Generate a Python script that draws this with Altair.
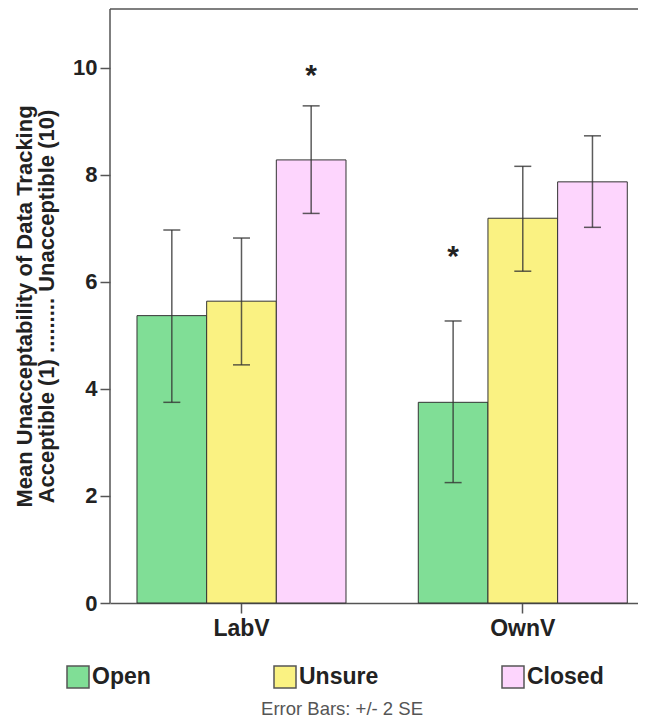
import altair as alt
import pandas as pd

# ---- data ----
groups = ["LabV", "LabV", "LabV", "OwnV", "OwnV", "OwnV"]
status = ["Open", "Unsure", "Closed", "Open", "Unsure", "Closed"]
means = [5.37, 5.64, 8.28, 3.75, 7.19, 7.87]
lower = [3.75, 4.45, 7.28, 2.25, 6.20, 7.02]
upper = [6.97, 6.82, 9.29, 5.27, 8.16, 8.73]
star_group = ["LabV", "OwnV"]
star_status = ["Closed", "Open"]
star_y = [9.95, 6.56]

order = ["Open", "Unsure", "Closed"]
colors = ["#80DE96", "#FAF282", "#FDD5FD"]
y_ticks = [0, 2, 4, 6, 8, 10]
y_title = ["Mean Unacceptability of Data Tracking",
           "Acceptible (1) ......... Unacceptible (10)"]
footnote = "Error Bars: +/- 2 SE"

W, H = 528, 594
FONT = "Liberation Sans"

df = pd.DataFrame({"group": groups, "status": status, "mean": means,
                   "lower": lower, "upper": upper})
stars = pd.DataFrame({"group": star_group, "status": star_status, "y": star_y,
                      "t": ["*", "*"]})

xenc = alt.X("group:N", title=None,
             scale=alt.Scale(paddingInner=0.257, paddingOuter=0.067, align=0.716),
             axis=alt.Axis(labelAngle=0, labelFont=FONT, labelFontSize=23,
                           labelFontWeight="bold", labelColor="#222",
                           labelPadding=4, tickSize=10,
                           tickWidth=1.5, tickColor="#555", domainColor="#555",
                           domainWidth=1.5))
xoff = alt.XOffset("status:N", sort=order,
                   scale=alt.Scale(domain=order, paddingInner=0, paddingOuter=0))
yscale = alt.Scale(domain=[0, 11.1], nice=False)
yaxis = alt.Axis(values=y_ticks, grid=False, title=y_title, orient="left",
                 domain=False,
                 titleFont=FONT, titleFontSize=22, titleFontWeight="bold",
                 titleColor="#222", titleAngle=-90, titleX=-79, titleY=297,
                 titleAlign="center", titleBaseline="alphabetic",
                 titleLineHeight=22,
                 labelFont=FONT, labelFontSize=22, labelFontWeight="bold",
                 labelColor="#222", labelPadding=3, tickSize=10,
                 tickWidth=1.5, tickColor="#555")

bars = alt.Chart(df).mark_bar(stroke="#333", strokeWidth=1).encode(
    x=xenc, xOffset=xoff,
    y=alt.Y("mean:Q", scale=yscale, axis=yaxis),
    color=alt.Color("status:N", sort=order,
                    scale=alt.Scale(domain=order, range=colors),
                    legend=alt.Legend(orient="none", legendX=-44, legendY=656,
                                      direction="horizontal", columns=3, title=None,
                                      symbolType="square", symbolSize=484,
                                      symbolStrokeColor="#555", symbolStrokeWidth=1.5,
                                      symbolOpacity=1, labelFont=FONT,
                                      labelFontSize=23, labelFontWeight="bold",
                                      labelColor="#222", labelOffset=2,
                                      columnPadding=120)),
)

rules = alt.Chart(df).mark_rule(color="#333", strokeWidth=1.5, opacity=0.8).encode(
    x=xenc, xOffset=xoff, y=alt.Y("lower:Q", scale=yscale, axis=yaxis), y2="upper:Q")
cap_lo = alt.Chart(df).mark_tick(color="#333", thickness=1.5, size=17,
                                 orient="horizontal", opacity=0.8).encode(
    x=xenc, xOffset=xoff, y=alt.Y("lower:Q", scale=yscale, axis=yaxis))
cap_hi = alt.Chart(df).mark_tick(color="#333", thickness=1.5, size=17,
                                 orient="horizontal", opacity=0.8).encode(
    x=xenc, xOffset=xoff, y=alt.Y("upper:Q", scale=yscale, axis=yaxis))

star_text = alt.Chart(stars).mark_text(font=FONT, fontSize=30, fontWeight="bold",
                                       color="#222", baseline="alphabetic",
                                       dy=14).encode(
    x=xenc, xOffset=xoff,
    y=alt.Y("y:Q", scale=yscale, axis=yaxis), text="t:N")

one = pd.DataFrame({"t": [footnote]})
# the reference frame is open on the right: hide any right edge line
right_mask = alt.Chart(one).mark_rule(color="white", strokeWidth=5).encode(
    x=alt.value(W), x2=alt.value(W), y=alt.value(1), y2=alt.value(H - 1))
top_line = alt.Chart(one).mark_rule(color="#555", strokeWidth=1.5).encode(
    x=alt.value(0), x2=alt.value(W), y=alt.value(0), y2=alt.value(0))
left_line = alt.Chart(one).mark_rule(color="#555", strokeWidth=1.5).encode(
    x=alt.value(0), x2=alt.value(0), y=alt.value(0), y2=alt.value(H))
note = alt.Chart(one).mark_text(
    font=FONT, fontSize=18.5, color="#555", baseline="middle",
    align="center").encode(
    x=alt.value(232), y=alt.value(700), text="t:N")

chart = alt.layer(bars, rules, cap_lo, cap_hi, star_text, right_mask, top_line,
                  left_line, note).properties(
    width=W, height=H, autosize="none",
    padding={"left": 102, "top": 1, "right": 0, "bottom": 116},
).resolve_axis(y="shared").configure_view(strokeWidth=0)

chart.save("out.html", embed_options={"renderer": "svg", "actions": False})
